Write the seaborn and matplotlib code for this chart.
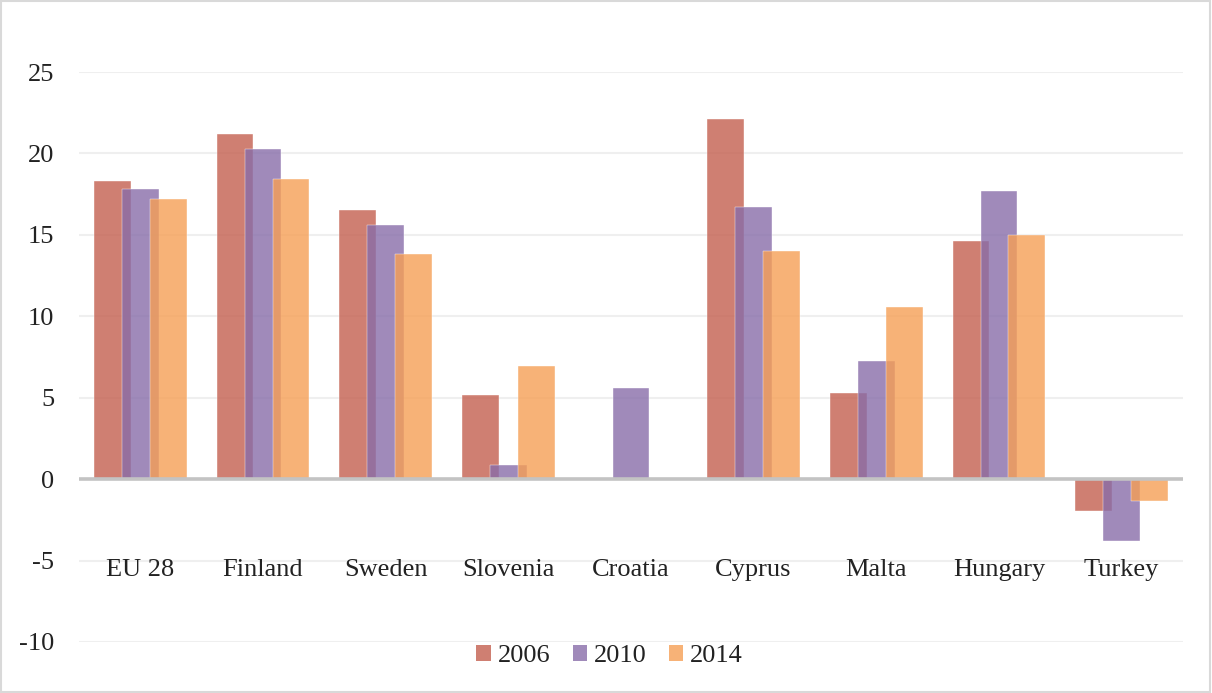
import numpy as np
import pandas as pd
import matplotlib
matplotlib.use("Agg")
import matplotlib.pyplot as plt
from matplotlib.patches import Rectangle, Patch
import seaborn as sns

countries = ["EU 28", "Finland", "Sweden", "Slovenia", "Croatia",
             "Cyprus", "Malta", "Hungary", "Turkey"]
years = ["2006", "2010", "2014"]
vals_2006 = [18.3, 21.2, 16.5, 5.15, np.nan, 22.1, 5.3, 14.6, -1.95]
vals_2010 = [17.8, 20.3, 15.6, 0.86, 5.6, 16.7, 7.25, 17.7, -3.8]
vals_2014 = [17.2, 18.4, 13.85, 6.95, np.nan, 14.0, 10.6, 15.0, -1.35]
yticks = [-10, -5, 0, 5, 10, 15, 20, 25]

colors = {"2006": "#c45f4f", "2010": "#886da9", "2014": "#f69f55"}
offsets = {"2006": -0.228, "2010": 0.0, "2014": 0.228}
series = {"2006": vals_2006, "2010": vals_2010, "2014": vals_2014}

sns.set_style("white")
plt.rcParams["font.family"] = ["Liberation Serif", "DejaVu Serif"]
FS = 19

fig = plt.figure(figsize=(12.12, 6.93), dpi=100)
ax = fig.add_axes([0.0652, 0.0736, 0.9108, 0.8225])
ax.set_axisbelow(False)

idx = np.arange(len(countries))
for yr in years:
    df = pd.DataFrame({"pos": idx + offsets[yr], "value": series[yr]}).dropna()
    sns.barplot(data=df, x="pos", y="value", native_scale=True, width=0.30,
                color=colors[yr], alpha=0.8, saturation=1, errorbar=None,
                edgecolor="#ffffff", linewidth=0.35, ax=ax, zorder=3)

ax.set_xlim(-0.5, len(countries) - 0.5)
ax.set_ylim(-10, 25)
# category labels hang just under the lowest bar
ax.spines["bottom"].set_position(("data", -4.35))
for s in ax.spines.values():
    s.set_visible(False)

ax.set_yticks(yticks)
ax.set_yticklabels([str(t) for t in yticks], fontsize=FS, color="#222222")
ax.set_xticks(idx)
ax.set_xticklabels(countries, fontsize=FS, color="#222222")
ax.tick_params(axis="both", length=0)
ax.tick_params(axis="y", pad=18)
ax.tick_params(axis="x", pad=6.5)
ax.set_xlabel("")
ax.set_ylabel("")

for t in yticks:
    if t != 0:
        ax.axhline(t, color="#efefef", lw=1.5, zorder=1)
ax.axhline(0, color="#c3c3c3", lw=2.6, zorder=4)

handles = [Patch(facecolor=colors[yr], alpha=0.8, edgecolor="none") for yr in years]
fig.legend(handles, years, loc="center", bbox_to_anchor=(0.503, 1 - 656 / 693),
           ncol=3, frameon=False, fontsize=FS, handlelength=0.55, handleheight=0.55,
           handletextpad=0.25, columnspacing=0.85, labelcolor="#222222")

fig.patches.append(Rectangle((0.001, 0.001), 0.997, 0.997, transform=fig.transFigure,
                             fill=False, edgecolor="#d9d9d9", lw=1.5))

fig.savefig("out.png", dpi=100)
